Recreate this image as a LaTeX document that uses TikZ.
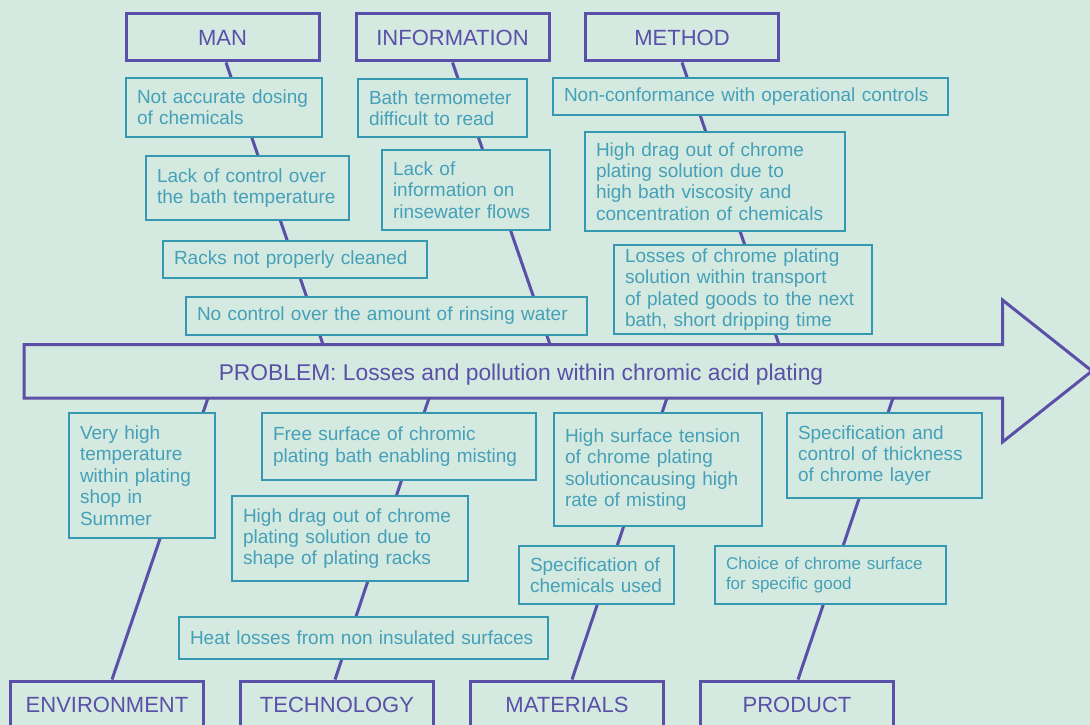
\documentclass[tikz,border=0pt]{standalone}
\usepackage{fontspec}
\setmainfont{Liberation Sans}
\definecolor{bg}{HTML}{D4E9E0}
\definecolor{pur}{HTML}{5A50A8}
\definecolor{tealb}{HTML}{3597B0}
\definecolor{tealt}{HTML}{45A0B8}
\tikzset{
  tbox/.style={draw=tealb, line width=2pt, fill=bg, text=tealt, anchor=north west,
    inner xsep=11pt, inner ysep=0pt, align=left,
    font=\fontsize{19}{21.4}\selectfont},
  cat/.style={draw=pur, line width=3pt, fill=bg, text=pur, minimum width=193pt,
    minimum height=47pt, inner sep=0pt, font=\fontsize{22}{26}\selectfont},
  bone/.style={draw=pur, line width=3pt},
  bigarrow/.style={draw=pur, line width=3pt, fill=bg, line join=miter}
}
\begin{document}
\begin{tikzpicture}[x=1pt,y=-1pt]
\useasboundingbox (0,0) rectangle (1090,725);
\fill[bg] (0,0) rectangle (1090,725);
\clip (0,0) rectangle (1090,725);

% category nodes
\node[cat] (man) at (222.5,37.5) {MAN};
\node[cat] (info) at (452.5,37.5) {INFORMATION};
\node[cat] (meth) at (682,37.5) {METHOD};
\node[cat] (env) at (107,704.5) {ENVIRONMENT};
\node[cat] (tech) at (337,704.5) {TECHNOLOGY};
\node[cat] (mat) at (567,704.5) {MATERIALS};
\node[cat] (prod) at (797,704.5) {PRODUCT};

% points where bones meet the arrow
\coordinate (manA) at (323,344.5);
\coordinate (infoA) at (550,344.5);
\coordinate (methA) at (779,344.5);
\coordinate (envA) at (208,398);
\coordinate (techA) at (429,398);
\coordinate (matA) at (667,398);
\coordinate (prodA) at (893,398);

% bones
\draw[bone] ([xshift=3.5pt]man.south) -- (manA);
\draw[bone] (info.south) -- (infoA);
\draw[bone] (meth.south) -- (methA);
\draw[bone] (envA) -- ([xshift=5pt]env.north);
\draw[bone] (techA) -- ([xshift=-2pt]tech.north);
\draw[bone] (matA) -- ([xshift=5pt]mat.north);
\draw[bone] (prodA) -- ([xshift=1pt]prod.north);

% main arrow
\draw[bigarrow] (24,344.5) -- (1002.5,344.5) -- (1002.5,300) -- (1092,371)
  -- (1002.5,442) -- (1002.5,398) -- (24,398) -- cycle;
\node[text=pur, anchor=base, font=\fontsize{22.8}{26}\selectfont, inner sep=0pt] (problem) at (521,380)
  {PROBLEM: Losses and pollution within chromic acid plating};

% MAN causes
\node[tbox, text width=174pt, minimum height=59pt] (man1) at (125,77) {Not accurate dosing\\of chemicals};
\node[tbox, text width=181pt, minimum height=64pt] (man2) at (145,155) {Lack of control over\\the bath temperature};
\node[tbox, text width=242pt, minimum height=37pt] (man3) at (162,240) {Racks not properly cleaned};
\node[tbox, text width=379pt, minimum height=38pt] (man4) at (185,296) {No control over the amount of rinsing water};

% INFORMATION causes
\node[tbox, text width=147pt, minimum height=58pt] (info1) at (357,78) {Bath termometer\\difficult to read};
\node[tbox, text width=146pt, minimum height=80pt] (info2) at (381,149) {Lack of\\information on\\rinsewater flows};

% METHOD causes
\node[tbox, text width=373pt, minimum height=37pt] (meth1) at (552,77) {Non-conformance with operational controls};
\node[tbox, text width=238pt, minimum height=99pt] (meth2) at (584,131) {High drag out of chrome\\plating solution due to\\high bath viscosity and\\concentration of chemicals};
\node[tbox, text width=236pt, minimum height=89pt] (meth3) at (613,244) {Losses of chrome plating\\solution within transport\\of plated goods to the next\\bath, short dripping time};

% ENVIRONMENT causes
\node[tbox, text width=124pt, minimum height=125pt] (env1) at (68,412) {Very high\\temperature\\within plating\\shop in\\Summer};

% TECHNOLOGY causes
\node[tbox, text width=252pt, minimum height=67pt] (tech1) at (261,412) {Free surface of chromic\\plating bath enabling misting};
\node[tbox, text width=214pt, minimum height=85pt] (tech2) at (231,495) {High drag out of chrome\\plating solution due to\\shape of plating racks};
\node[tbox, text width=347pt, minimum height=42pt] (tech3) at (178,616) {Heat losses from non insulated surfaces};

% MATERIALS causes
\node[tbox, text width=186pt, minimum height=113pt] (mat1) at (553,412) {High surface tension\\of chrome plating\\solutioncausing high\\rate of misting};
\node[tbox, text width=133pt, minimum height=58pt] (mat2) at (518,545) {Specification of\\chemicals used};

% PRODUCT causes
\node[tbox, text width=173pt, minimum height=85pt] (prod1) at (786,412) {Specification and\\control of thickness\\of chrome layer};
\node[tbox, text width=209pt, minimum height=58pt, font=\fontsize{17}{20}\selectfont] (prod2) at (714,545) {Choice of chrome surface\\for specific good};
\end{tikzpicture}
\end{document}
